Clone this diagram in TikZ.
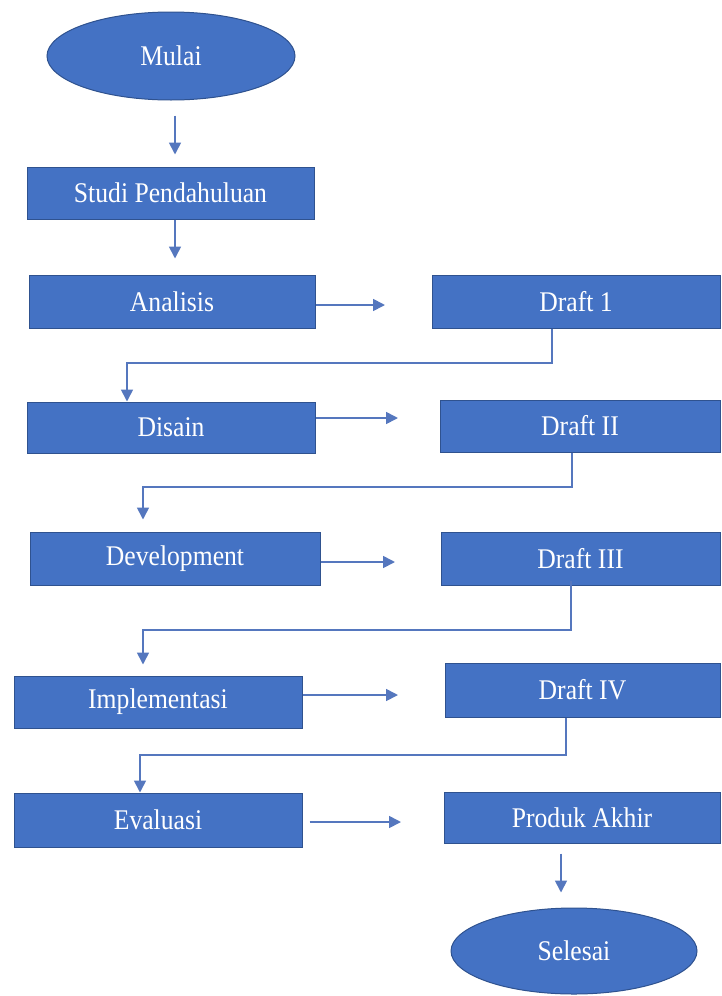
\documentclass[tikz,border=0pt]{standalone}
\usepackage{fontspec}
\setmainfont{Liberation Serif}
\newfontfamily\boxfont{Liberation Serif}[FakeStretch=0.9]
\usetikzlibrary{arrows.meta,shapes.geometric}
\definecolor{boxblue}{HTML}{4472C4}
\definecolor{boxedge}{HTML}{2F528F}
\definecolor{linkblue}{HTML}{5577BE}
\tikzset{
  stepbox/.style={rectangle,fill=boxblue,draw=boxedge,line width=1pt,inner sep=0pt,text=white,
    font=\boxfont\fontsize{28.5}{30}\selectfont},
  termnode/.style={ellipse,fill=boxblue,draw=boxedge,line width=1pt,inner sep=0pt,text=white,
    font=\boxfont\fontsize{28.5}{30}\selectfont},
  arr/.style={draw=linkblue,line width=1.7pt,-{Triangle[length=12pt,width=12pt]}},
  link/.style={draw=linkblue,line width=1.7pt,-{Triangle[length=12pt,width=12pt]}}
}
\begin{document}
\begin{tikzpicture}[x=1pt,y=-1pt]
\useasboundingbox (0,0) rectangle (721,996);
% terminals
\node[termnode,minimum width=248,minimum height=88] (m) at (171,56) {Mulai};
\node[termnode,minimum width=246,minimum height=86] (se) at (574,951) {Selesai};
% left column
\node[stepbox,minimum width=287,minimum height=52] (sp) at (170.5,193) {Studi Pendahuluan};
\node[stepbox,minimum width=286,minimum height=53] (an) at (172,301.5) {Analisis};
\node[stepbox,minimum width=288,minimum height=51] (dis) at (171,427.5) {Disain};
\node[stepbox,minimum width=290,minimum height=53] (dev) at (175,558.5) {Development};
\node[stepbox,minimum width=288,minimum height=52] (imp) at (158,702) {Implementasi};
\node[stepbox,minimum width=288,minimum height=54] (ev) at (158,820) {Evaluasi};
% right column
\node[stepbox,minimum width=288,minimum height=53] (d1) at (576,301.5) {Draft 1};
\node[stepbox,minimum width=280,minimum height=52] (d2) at (580,426) {Draft II};
\node[stepbox,minimum width=279,minimum height=53] (d3) at (580.5,558.5) {Draft III};
\node[stepbox,minimum width=275,minimum height=54] (d4) at (582.5,690) {Draft IV};
\node[stepbox,minimum width=276,minimum height=51] (pa) at (582,817.5) {Produk Akhir};
% vertical arrows in left column
\coordinate (vx) at (175,0);
\draw[arr,shorten <=15pt,shorten >=12pt] (m.south -| vx) -- (sp.north -| vx);
\draw[arr,shorten >=16pt] (sp.south -| vx) -- (an.north -| vx);
% horizontal arrows
\coordinate (h1) at (385,305);
\draw[arr] (an.east |- h1) -- (h1);
\coordinate (h2) at (398,418);
\draw[arr] (dis.east |- h2) -- (h2);
\coordinate (h3) at (395,562);
\draw[arr] (dev.east |- h3) -- (h3);
\coordinate (h4) at (398,695);
\draw[arr] (imp.east |- h4) -- (h4);
\coordinate (h5) at (401,822);
\draw[arr,shorten <=7pt] (ev.east |- h5) -- (h5);
% return connectors
\coordinate (k1a) at (552,363); \coordinate (k1b) at (127,363);
\draw[link] (d1.south -| k1a) -- (k1a) -- (k1b) -- (dis.north -| k1b);
\coordinate (k2a) at (572,487); \coordinate (k2b) at (143,487);
\draw[link,shorten >=12pt] (d2.south -| k2a) -- (k2a) -- (k2b) -- (dev.north -| k2b);
\coordinate (k3a) at (571,630); \coordinate (k3b) at (143,630);
\draw[link,shorten >=11pt] ([yshift=5pt]d3.south -| k3a) -- (k3a) -- (k3b) -- (imp.north -| k3b);
\coordinate (k4a) at (566,755); \coordinate (k4b) at (140,755);
\draw[link] (d4.south -| k4a) -- (k4a) -- (k4b) -- (ev.north -| k4b);
% final arrow
\coordinate (vy) at (561,0);
\draw[arr,shorten <=10pt,shorten >=15pt] (pa.south -| vy) -- (se.north -| vy);
\end{tikzpicture}
\end{document}
